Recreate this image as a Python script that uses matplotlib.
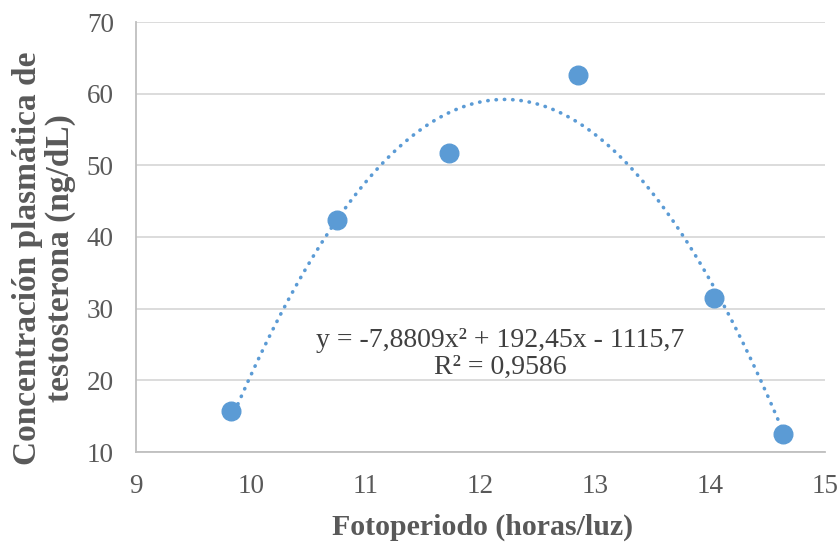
import numpy as np
import matplotlib.pyplot as plt

# Data
fotoperiodo = [9.83, 10.75, 11.73, 12.85, 14.03, 14.63]
testosterona = [15.7, 42.4, 51.7, 62.6, 31.5, 12.5]

# Polynomial trend line coefficients (as printed on the chart)
coef = [-7.8809, 192.45, -1115.7]
eq_text = "y = -7,8809x² + 192,45x - 1115,7\nR² = 0,9586"

x_ticks = [9, 10, 11, 12, 13, 14, 15]
y_ticks = [10, 20, 30, 40, 50, 60, 70]

plt.rcParams['font.family'] = ['Liberation Serif', 'DejaVu Serif']

fig = plt.figure(figsize=(8.4, 5.44), dpi=100)
ax = fig.add_axes([136 / 840, 1 - 452 / 544, 689 / 840, 430 / 544])

blue = '#5b9bd5'
grey = '#595959'

# trend line
xs = np.linspace(min(fotoperiodo), max(fotoperiodo), 200)
ax.plot(xs, np.polyval(coef, xs), color=blue, lw=2.6, ls=(0, (0.1, 2.2)),
        dash_capstyle='round', zorder=2)

ax.scatter(fotoperiodo, testosterona, s=180, color=blue, zorder=3, clip_on=False)

ax.set_xlim(9, 15)
ax.set_ylim(10, 70)
ax.set_xticks(x_ticks)
ax.set_yticks(y_ticks)
ax.tick_params(length=0, labelsize=19.5, colors=grey)
ax.tick_params(axis='x', pad=16)
ax.tick_params(axis='y', pad=16)
ax.grid(axis='y', color='#d9d9d9', lw=1.3)
ax.set_axisbelow(True)
for s in ['top', 'right']:
    ax.spines[s].set_visible(False)
for s in ['left', 'bottom']:
    ax.spines[s].set_color('#bfbfbf')
    ax.spines[s].set_linewidth(1.3)

fig.text(483 / 840, 1 - 527 / 544, 'Fotoperiodo (horas/luz)', fontsize=21.5,
         fontweight='bold', color=grey, ha='center', va='center')
fig.text(44 / 840, 1 - 258 / 544, 'Concentración plasmática de\ntestosterona (ng/dL)',
         fontsize=24, fontweight='bold', color=grey, rotation=90,
         ha='center', va='center', linespacing=1.05)

ax.text(12.17, 23.7, eq_text, ha='center', va='center', fontsize=20,
        color='#404040', linespacing=1.1)

fig.savefig('out.png', dpi=100)
